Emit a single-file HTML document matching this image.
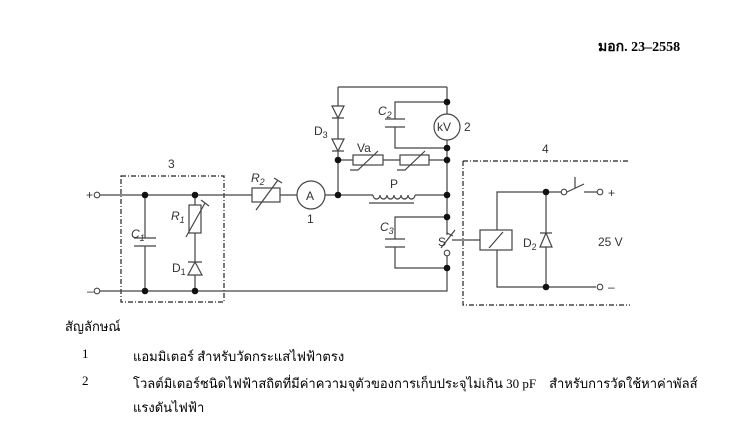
<!DOCTYPE html>
<html><head><meta charset="utf-8"><style>
html,body{margin:0;padding:0;background:#fff;}
body{width:742px;height:424px;position:relative;overflow:hidden;font-family:"Liberation Serif",serif;}
.t{position:absolute;font-size:13px;color:#000;white-space:nowrap;font-family:"Liberation Serif","DejaVu Sans",serif;}
</style></head><body>
<svg width="742" height="424" style="position:absolute;left:0;top:0" font-family="Liberation Sans, sans-serif">
<g stroke="#444" stroke-width="1.2" fill="none">
<rect x="121" y="176" width="103" height="126" stroke="#222" stroke-dasharray="5,2,1,2"/>
<path d="M463 161 H630 M463 161 V305 H630" stroke="#222" stroke-dasharray="5,2,1,2"/>
<path d="M100 195 H242 V195 M242 195 H252 M280 195 H297 M325 195 H373 M415 195 H447"/>
<rect x="252" y="188" width="28" height="14" fill="#fff"/>
<path d="M256 210 L278 180 M274 178 L282 183"/>
<circle cx="311" cy="195" r="14" fill="#fff"/>
<path d="M100 291 H447 V268"/>
<path d="M145 195 V238 M145 246 V291 M134 238 H156 M134 246 H156"/>
<path d="M195 195 V205 M195 233 V262 M195 275 V291"/>
<rect x="189" y="205" width="12" height="28" fill="#fff"/>
<path d="M186 237 L205 203 M201 200 L209 206"/>
<path d="M188 275 H202 L195 262 Z M188 262 H202"/>
<path d="M447 87 V217 M447 217 V233 M447 233 L453 236 M447 253 V268"/>
<path d="M338 87 H447 M338 87 V106 M338 118 V139 M338 151 V195"/>
<path d="M332 106 H344 L338 118 Z M332 118 H344"/>
<path d="M332 139 H344 L338 151 Z M332 151 H344"/>
<path d="M447 102 H395 V119 M395 127 V148 H447 M385 119 H405 M385 127 H405"/>
<circle cx="447" cy="127" r="13" fill="#fff"/>
<path d="M338 160 H353 M383 160 H400 M429 160 H447"/>
<rect x="353" y="155" width="30" height="10"/>
<rect x="400" y="155" width="29" height="10"/>
<path d="M350 170 H358 L378 151 M397 170 H405 L425 151"/>
<path d="M373 195 a3.5 4 0 0 0 7 0 a3.5 4 0 0 0 7 0 a3.5 4 0 0 0 7 0 a3.5 4 0 0 0 7 0 a3.5 4 0 0 0 7 0 a3.5 4 0 0 0 7 0"/>
<path d="M369 203 H414"/>
<path d="M447 217 H395 V239 M395 247 V268 H447 M385 239 H405 M385 247 H405"/>
<path d="M447 235 V232 M441 248 L455 230 M452 240 H480"/>
<rect x="480" y="230" width="32" height="20" fill="#fff"/>
<path d="M489 248 L503 232"/>
<path d="M497 230 V192 H564 M497 250 V287 H596 M546 192 V233 M546 247 V287 M540 247 H552 L546 233 Z M540 233 H552"/>
<path d="M567 192 L584 184 M575 177 V188 M584 192 H597"/>
</g>
<g fill="#111">
<circle cx="145" cy="195" r="3.3"/><circle cx="195" cy="195" r="3.3"/>
<circle cx="145" cy="291" r="3.3"/><circle cx="195" cy="291" r="3.3"/>
<circle cx="338" cy="195" r="3.3"/><circle cx="338" cy="160" r="3.3"/>
<circle cx="447" cy="102" r="3.3"/><circle cx="447" cy="148" r="3.3"/>
<circle cx="447" cy="160" r="3.3"/><circle cx="447" cy="195" r="3.3"/>
<circle cx="447" cy="217" r="3.3"/><circle cx="447" cy="268" r="3.3"/>
<circle cx="546" cy="192" r="3.3"/><circle cx="546" cy="287" r="3.3"/>
</g>
<g fill="#fff" stroke="#444" stroke-width="1.1">
<circle cx="97" cy="195" r="2.8"/><circle cx="97" cy="291" r="2.8"/>
<circle cx="447" cy="253" r="2.8"/><circle cx="564" cy="192" r="2.8"/>
<circle cx="600" cy="192" r="2.8"/><circle cx="600" cy="287" r="2.8"/>
</g>
<g fill="#333" font-size="12">
<text x="86" y="199">+</text><text x="87" y="295">–</text>
<text x="168" y="168">3</text><text x="542" y="153">4</text>
<text x="306" y="200">A</text><text x="307" y="223">1</text>
<text x="437" y="131">kV</text><text x="464" y="131">2</text>
<text x="314" y="135">D<tspan font-size="9" dy="3">3</tspan></text>
<text x="357" y="152">Va</text><text x="390" y="188">P</text>
<text x="378" y="115" font-style="italic">C<tspan font-size="9" dy="3">2</tspan></text>
<text x="380" y="231" font-style="italic">C<tspan font-size="9" dy="3">3</tspan></text>
<text x="251" y="182" font-style="italic">R<tspan font-size="9" dy="3">2</tspan></text>
<text x="171" y="220" font-style="italic">R<tspan font-size="9" dy="3">1</tspan></text>
<text x="131" y="238" font-style="italic">C<tspan font-size="9" dy="3">1</tspan></text>
<text x="172" y="272">D<tspan font-size="9" dy="3">1</tspan></text>
<text x="523" y="247">D<tspan font-size="9" dy="3">2</tspan></text>
<text x="438" y="246">S</text>
<text x="598" y="246">25 V</text>
<text x="608" y="197">+</text><text x="608" y="291">–</text>
</g>
</svg>
<div class="t" style="left:598px;top:36px;font-weight:bold;font-size:14px;">มอก. 23–2558</div>
<div class="t" style="left:65px;top:316px;">สัญลักษณ์</div>
<div class="t" style="left:82px;top:346px;">1</div>
<div class="t" style="left:133px;top:346px;">แอมมิเตอร์ สำหรับวัดกระแสไฟฟ้าตรง</div>
<div class="t" style="left:82px;top:373px;">2</div>
<div class="t" style="left:133px;top:373px;">โวลต์มิเตอร์ชนิดไฟฟ้าสถิตที่มีค่าความจุตัวของการเก็บประจุไม่เกิน 30 pF &nbsp;&nbsp;&nbsp;สำหรับการวัดใช้หาค่าพัลส์</div>
<div class="t" style="left:133px;top:397px;">แรงดันไฟฟ้า</div>
</body></html>
